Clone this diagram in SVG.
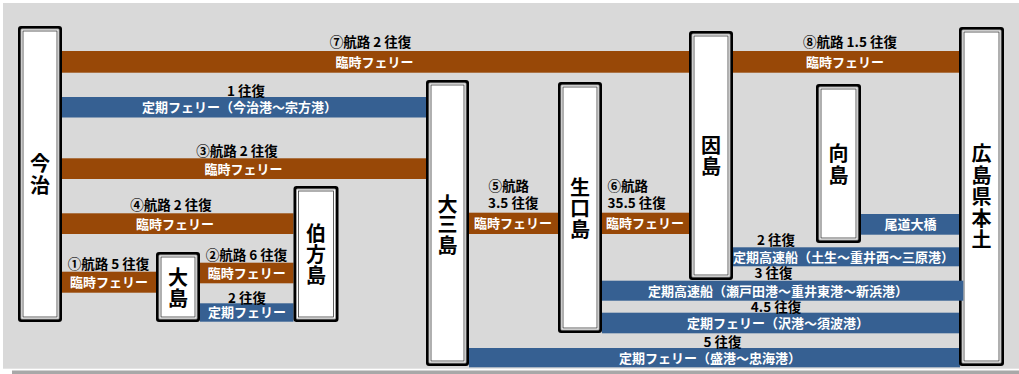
<svg xmlns="http://www.w3.org/2000/svg" width="1019" height="374" viewBox="0 0 1019 374">
<defs>
<style>
.bg{fill:#d9d9d9}
.o{fill:#984807}
.b{fill:#366092}
.lab{font-family:"Noto Sans CJK JP","Noto Sans",sans-serif;font-weight:bold;font-size:13px;fill:#fff;text-anchor:middle}
.cap{font-family:"Noto Sans CJK JP","Noto Sans",sans-serif;font-weight:bold;font-size:13.5px;fill:#000;text-anchor:middle}
.capl{font-family:"Noto Sans CJK JP","Noto Sans",sans-serif;font-weight:bold;font-size:13.5px;fill:#000;text-anchor:start}
.nt{font-family:"Noto Sans CJK JP","Noto Sans",sans-serif;font-weight:bold;font-size:20px;fill:#000;text-anchor:middle;writing-mode:vertical-rl;letter-spacing:1px}
.bo{fill:#000}
.bg2{fill:#9a9a9a}
.bw{fill:#fff}
.bl{fill:none;stroke:#3a3a3a;stroke-width:0.8}
</style>
</defs>
<rect x="0" y="0" width="1019" height="374" fill="#ffffff"/>
<rect x="12" y="370.5" width="1007" height="3.5" fill="#a8a8a8"/>
<rect class="bg" x="3" y="3" width="1016" height="365.7"/>

<g id="connectors">
<rect class="o" x="62" y="51" width="627" height="21.7"/>
<text class="cap" x="370.5" y="47">⑦航路 2 往復</text>
<text class="lab" x="374.5" y="66.8">臨時フェリー</text>

<rect class="o" x="733" y="51" width="226" height="21.7"/>
<text class="cap" x="850" y="47">⑧航路 1.5 往復</text>
<text class="lab" x="845" y="66.8">臨時フェリー</text>

<rect class="b" x="62" y="97" width="364" height="20.5"/>
<text class="cap" x="246" y="95.5">1 往復</text>
<text class="lab" x="239.5" y="112.2">定期フェリー（今治港〜宗方港）</text>

<rect class="o" x="62" y="158.3" width="364" height="20.7"/>
<text class="cap" x="237" y="155.5">③航路 2 往復</text>
<text class="lab" x="243.5" y="173.6">臨時フェリー</text>

<rect class="o" x="62" y="213.3" width="231.5" height="20.7"/>
<text class="cap" x="171" y="210">④航路 2 往復</text>
<text class="lab" x="175" y="228.6">臨時フェリー</text>

<rect class="o" x="62" y="271.7" width="94" height="21"/>
<text class="cap" x="108.5" y="269">①航路 5 往復</text>
<text class="lab" x="109" y="287.1">臨時フェリー</text>

<rect class="o" x="200" y="262.7" width="93.5" height="20.6"/>
<text class="cap" x="246.5" y="260">②航路 6 往復</text>
<text class="lab" x="246.7" y="277.9">臨時フェリー</text>

<rect class="b" x="200" y="303.3" width="93.5" height="18.4"/>
<text class="cap" x="247" y="302.5">2 往復</text>
<text class="lab" x="247" y="317.4">定期フェリー</text>

<rect class="o" x="469" y="212.7" width="89" height="21.3"/>
<text class="capl" x="488.5" y="191">⑤航路</text>
<text class="capl" x="488" y="208">3.5 往復</text>
<text class="lab" x="513" y="228.2">臨時フェリー</text>

<rect class="o" x="602" y="212.7" width="87" height="21.3"/>
<text class="capl" x="607.5" y="191">⑥航路</text>
<text class="capl" x="607.5" y="208">35.5 往復</text>
<text class="lab" x="645" y="228.2">臨時フェリー</text>

<rect class="b" x="861" y="214" width="98" height="20.7"/>
<text class="lab" x="910.5" y="229.2">尾道大橋</text>

<rect class="b" x="733" y="247.3" width="226" height="19"/>
<text class="cap" x="776" y="244.5">2 往復</text>
<text class="lab" x="843.5" y="261.7">定期高速船（土生〜重井西〜三原港）</text>

<rect class="b" x="602" y="280.7" width="361.3" height="20"/>
<text class="cap" x="773.5" y="278">3 往復</text>
<text class="lab" x="778" y="295.6">定期高速船（瀬戸田港〜重井東港〜新浜港）</text>

<rect class="b" x="602" y="312.7" width="358" height="20.6"/>
<text class="cap" x="776" y="312">4.5 往復</text>
<text class="lab" x="778" y="327.9">定期フェリー（沢港〜須波港）</text>

<rect class="b" x="469" y="348" width="491" height="19.3"/>
<text class="cap" x="722.5" y="346.5">5 往復</text>
<text class="lab" x="710" y="362.6">定期フェリー（盛港〜忠海港）</text>
</g>

<g id="imabari">
<rect class="bo" x="18" y="26" width="44" height="296" rx="3"/>
<rect class="bg2" x="20.5" y="28.5" width="39" height="291" rx="1.5"/>
<rect class="bw" x="21.5" y="29.5" width="37" height="289"/>
<rect class="bl" x="23" y="31" width="34" height="286"/>
<text class="nt" x="40" y="175" style="letter-spacing:2px">今治</text>
</g>

<g id="oshima">
<rect class="bo" x="156" y="252" width="44" height="70" rx="3"/>
<rect class="bg2" x="158.5" y="254.5" width="39" height="65" rx="1.5"/>
<rect class="bw" x="159.5" y="255.5" width="37" height="63"/>
<rect class="bl" x="161" y="257" width="34" height="60"/>
<text class="nt" x="178" y="288">大島</text>
</g>

<g id="hakatajima">
<rect class="bo" x="293.5" y="186" width="45" height="136" rx="3"/>
<rect class="bg2" x="296" y="188.5" width="40" height="131" rx="1.5"/>
<rect class="bw" x="297" y="189.5" width="38" height="129"/>
<rect class="bl" x="298.5" y="191" width="35" height="126"/>
<text class="nt" x="316" y="254.5">伯方島</text>
</g>

<g id="omishima">
<rect class="bo" x="426" y="80" width="43" height="286" rx="3"/>
<rect class="bg2" x="428.5" y="82.5" width="38" height="281" rx="1.5"/>
<rect class="bw" x="429.5" y="83.5" width="36" height="279"/>
<rect class="bl" x="431" y="85" width="33" height="276"/>
<text class="nt" x="447.5" y="225" style="letter-spacing:0.5px">大三島</text>
</g>

<g id="ikuchijima">
<rect class="bo" x="558" y="82" width="44" height="251" rx="3"/>
<rect class="bg2" x="560.5" y="84.5" width="39" height="246" rx="1.5"/>
<rect class="bw" x="561.5" y="85.5" width="37" height="244"/>
<rect class="bl" x="563" y="87" width="34" height="241"/>
<text class="nt" x="580" y="208.5">生口島</text>
</g>

<g id="innoshima">
<rect class="bo" x="689" y="31" width="44" height="249" rx="3"/>
<rect class="bg2" x="691.5" y="33.5" width="39" height="244" rx="1.5"/>
<rect class="bw" x="692.5" y="34.5" width="37" height="242"/>
<rect class="bl" x="694" y="36" width="34" height="239"/>
<text class="nt" x="711" y="156.5" style="letter-spacing:1.5px">因島</text>
</g>

<g id="mukaishima">
<rect class="bo" x="816" y="84" width="45" height="159" rx="3"/>
<rect class="bg2" x="818.5" y="86.5" width="40" height="154" rx="1.5"/>
<rect class="bw" x="819.5" y="87.5" width="38" height="152"/>
<rect class="bl" x="821" y="89" width="35" height="149"/>
<text class="nt" x="838.5" y="165" style="letter-spacing:1.5px">向島</text>
</g>

<g id="hiroshima">
<rect class="bo" x="959" y="27" width="45" height="339" rx="3"/>
<rect class="bg2" x="961.5" y="29.5" width="40" height="334" rx="1.5"/>
<rect class="bw" x="962.5" y="30.5" width="38" height="332"/>
<rect class="bl" x="964" y="32" width="35" height="329"/>
<text class="nt" x="981.5" y="197.5" style="letter-spacing:1.5px">広島県本土</text>
</g>

<rect class="b" x="959" y="280.7" width="4.3" height="20"/>
</svg>
